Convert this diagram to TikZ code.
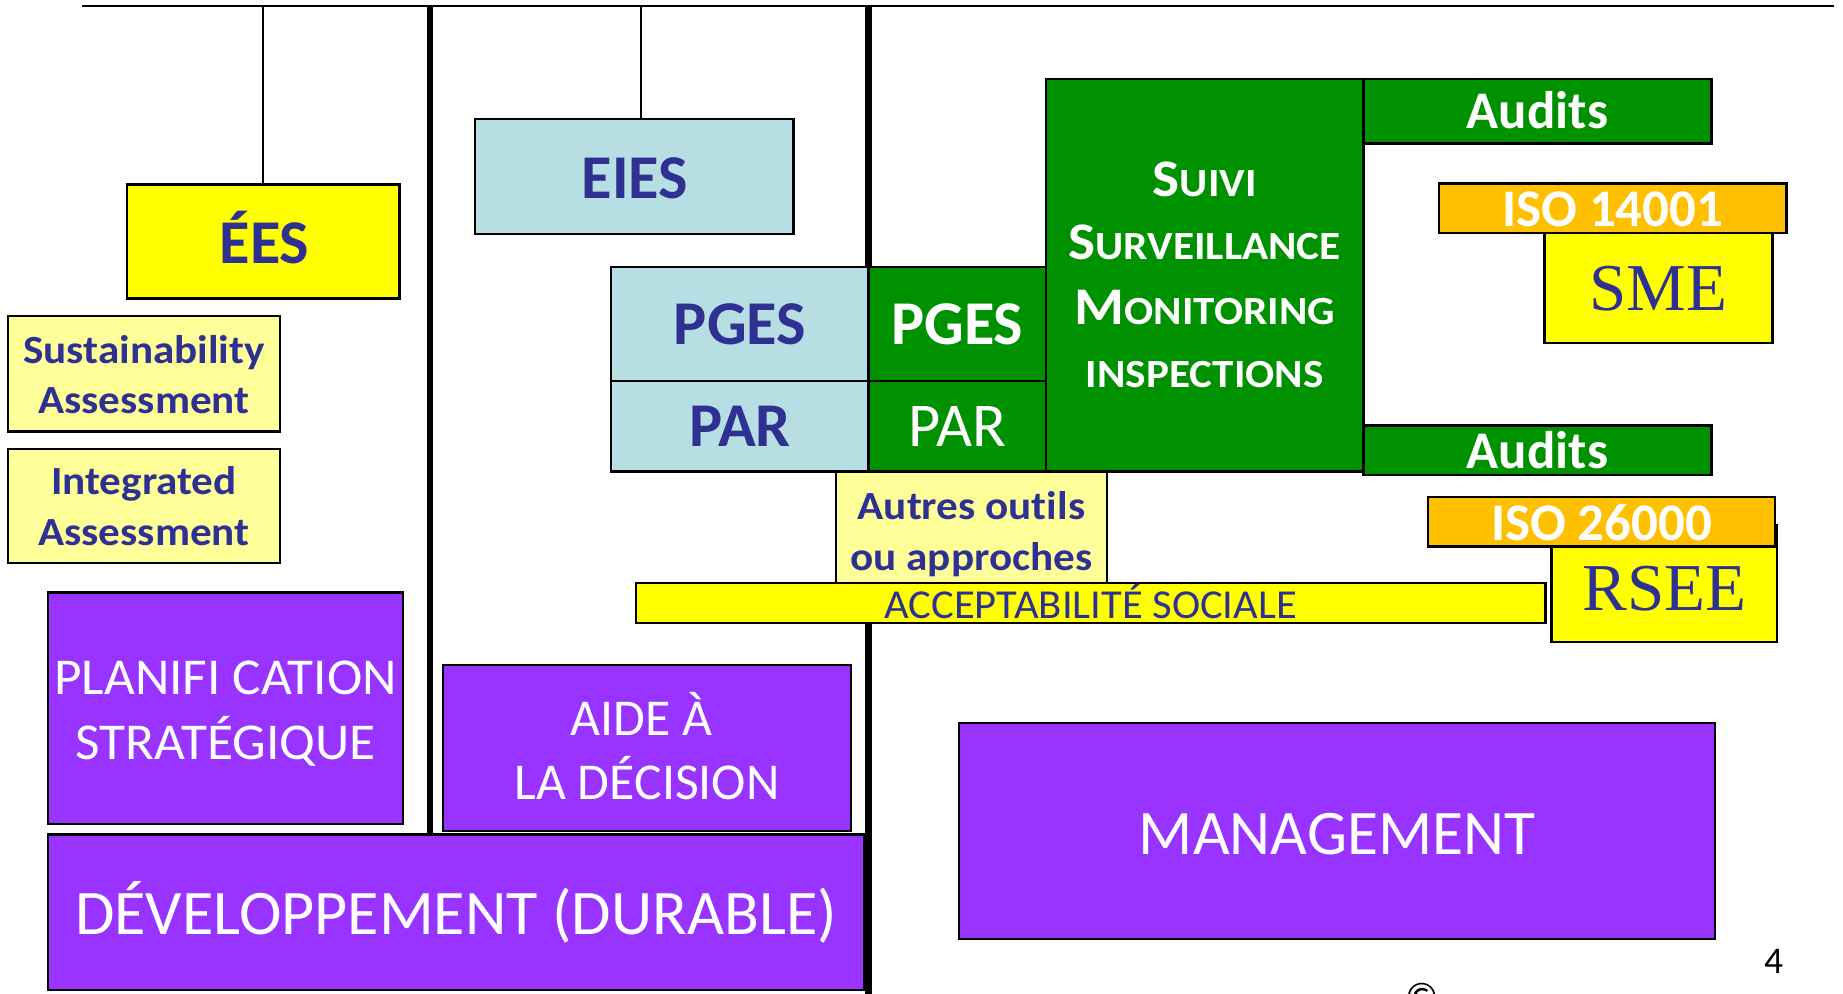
\documentclass[tikz,border=0pt]{standalone}
\usepackage{graphicx}
\usepackage{fontspec}
\setmainfont[Ligatures=NoCommon]{Carlito}
\newfontfamily\serifTNR{Liberation Serif}
\definecolor{dblue}{RGB}{46,49,146}
\definecolor{lblue}{RGB}{183,222,226}
\definecolor{dgreen}{RGB}{0,145,0}
\definecolor{pyellow}{RGB}{255,255,153}
\definecolor{byellow}{RGB}{255,255,0}
\definecolor{orng}{RGB}{255,192,0}
\definecolor{purp}{RGB}{153,51,255}
\newcommand\fs[1]{\fontsize{#1}{#1}\selectfont}
\newcommand\hs[2]{\scalebox{#1}[1]{#2}}
\begin{document}
\begin{tikzpicture}[x=1pt,y=-1pt,
  box/.style={draw=black, line width=2pt, inner sep=0pt, outer sep=0pt, anchor=north west},
  lbl/.style={anchor=base, inner sep=0pt, outer sep=0pt},
  thinline/.style={draw=black, line width=1.5pt},
  thickline/.style={draw=black, line width=5.5pt}]
\useasboundingbox (0,0) rectangle (1568,845);
\clip (0,0) rectangle (1568,845);
% frame lines
\coordinate (tl) at (70,5);
\coordinate (tr) at (1560,5);
\coordinate (v1t) at (366,5);
\coordinate (v1b) at (366,712);
\coordinate (v2t) at (739,5);
\coordinate (v2b) at (739,850);
\draw[thinline] (tl) -- (tr);
\draw[thickline] (v1t) -- (v1b);
\draw[thickline] (v2t) -- (v2b);
% boxes
\node[box, fill=byellow, minimum width=232pt, minimum height=97pt] (ees) at (108,157) {};
\node[box, fill=lblue, minimum width=271pt, minimum height=98pt] (eies) at (404,101) {};
\node[box, fill=pyellow, minimum width=231pt, minimum height=98pt] (sust) at (7,269) {};
\node[box, fill=pyellow, minimum width=231pt, minimum height=97pt] (integ) at (7,382) {};
\node[box, fill=lblue, minimum width=219pt, minimum height=97pt] (pgesL) at (520,227) {};
\node[box, fill=lblue, minimum width=219pt, minimum height=77pt] (parL) at (520,324) {};
\node[box, fill=dgreen, minimum width=151pt, minimum height=97pt] (pgesG) at (739,227) {};
\node[box, fill=dgreen, minimum width=151pt, minimum height=77pt] (parG) at (739,324) {};
\node[box, fill=dgreen, minimum width=270pt, minimum height=334pt] (suivi) at (890,67) {};
\node[box, fill=dgreen, minimum width=296pt, minimum height=55pt] (auditsA) at (1160,67) {};
\node[box, fill=byellow, minimum width=194pt, minimum height=94pt] (sme) at (1314,198) {};
\node[box, fill=orng, minimum width=296pt, minimum height=42pt] (iso14) at (1224,156) {};
\node[box, fill=dgreen, minimum width=296pt, minimum height=42pt] (auditsB) at (1160,362) {};
\node[box, fill=byellow, minimum width=192pt, minimum height=99pt] (rsee) at (1320,447) {};
\node[box, fill=orng, minimum width=295pt, minimum height=42pt] (iso26) at (1215,423) {};
\node[box, fill=pyellow, minimum width=231pt, minimum height=95pt] (autres) at (711,401) {};
\node[box, fill=byellow, minimum width=774pt, minimum height=34pt] (accept) at (541,496) {};
\node[box, fill=purp, minimum width=302pt, minimum height=197pt] (planif) at (41,504) {};
\node[box, fill=purp, minimum width=347pt, minimum height=141pt] (aide) at (377,566) {};
\node[box, fill=purp, minimum width=694pt, minimum height=132pt] (dev) at (41,710) {};
\node[box, fill=purp, minimum width=643pt, minimum height=184pt] (mgmt) at (816,615) {};
% connectors from top line
\draw[thinline] (ees.north) -- (ees.north |- tl);
\draw[thinline] ([xshift=6pt]eies.north) -- ([xshift=6pt]eies.north |- tl);
% texts
\node[lbl, text=dblue, font=\fs{53}\bfseries] (eesT) at (225,224) {ÉES};
\node[lbl, text=dblue, font=\fs{53}\bfseries] (eiesT) at (540,169) {EIES};
\node[lbl, text=dblue, font=\fs{34}\bfseries] (sust1) at (122.5,309) {\hs{1.08}{Sustainability}};
\node[lbl, text=dblue, font=\fs{34}\bfseries] (sust2) at (122.5,352) {\hs{1.08}{Assessment}};
\node[lbl, text=dblue, font=\fs{34}\bfseries] (integ1) at (122.5,421) {\hs{1.08}{Integrated}};
\node[lbl, text=dblue, font=\fs{34}\bfseries] (integ2) at (122.5,464) {\hs{1.08}{Assessment}};
\node[lbl, text=dblue, font=\fs{53}\bfseries] (pgesLT) at (629.5,293.5) {PGES};
\node[lbl, text=dblue, font=\fs{53}\bfseries] (parLT) at (629.5,380) {PAR};
\node[lbl, text=white, font=\fs{53}\bfseries] (pgesGT) at (814.5,293.5) {PGES};
\node[lbl, text=white, font=\fs{53}] (parGT) at (814.5,380) {PAR};
\node[lbl, text=white, font=\bfseries] (s1) at (1025,167.5) {\hs{1.08}{\fs{45}S\fs{34}UIVI}};
\node[lbl, text=white, font=\bfseries] (s2) at (1025,221) {\hs{1.08}{\fs{45}S\fs{34}URVEILLANCE}};
\node[lbl, text=white, font=\bfseries] (s3) at (1025,276) {\hs{1.08}{\fs{45}M\fs{34}ONITORING}};
\node[lbl, text=white, font=\bfseries] (s4) at (1025,330) {\hs{1.08}{\fs{34}INSPECTIONS}};
\node[lbl, text=white, font=\fs{45}\bfseries] (auditsAT) at (1308,109) {Audits};
\node[lbl, text=white, font=\fs{45}\bfseries] (iso14T) at (1372,193) {ISO 14001};
\node[lbl, text=dblue, font=\fs{57}\serifTNR] (smeT) at (1411,264) {SME};
\node[lbl, text=white, font=\fs{45}\bfseries] (auditsBT) at (1308,399) {Audits};
\node[lbl, text=white, font=\fs{45}\bfseries] (iso26T) at (1362.5,460) {ISO 26000};
\node[lbl, text=dblue, font=\fs{57}\serifTNR] (rseeT) at (1416,519) {RSEE};
\node[lbl, text=dblue, font=\fs{34}\bfseries] (autres1) at (826.5,442) {\hs{1.08}{Autres outils}};
\node[lbl, text=dblue, font=\fs{34}\bfseries] (autres2) at (826.5,485) {\hs{1.08}{ou approches}};
\node[lbl, text=dblue, font=\fs{35}] (acceptT) at (928,526) {\hs{1.035}{ACCEPTABILITÉ SOCIALE}};
\node[lbl, text=white, font=\fs{44}] (planif1) at (192,591) {\hs{1.03}{PLANIFI CATION}};
\node[lbl, text=white, font=\fs{44}] (planif2) at (192,646) {\hs{1.03}{STRATÉGIQUE}};
\node[lbl, text=white, font=\fs{44}] (aide1) at (546,626) {AIDE À};
\node[lbl, text=white, font=\fs{44}] (aide2) at (550.5,680) {LA DÉCISION};
\node[lbl, text=white, font=\fs{54}] (devT) at (388,795) {\hs{1.01}{DÉVELOPPEMENT (DURABLE)}};
\node[lbl, text=white, font=\fs{54}] (mgmtT) at (1137.5,727) {MANAGEMENT};
\node[lbl, text=black, font=\fs{32}] (pageno) at (1509,828) {4};
\node[lbl, text=black, font=\fs{34}] (copy) at (1210,860) {©};
\end{tikzpicture}
\end{document}
